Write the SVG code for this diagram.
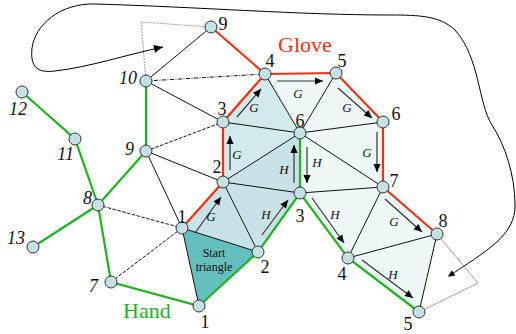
<svg xmlns="http://www.w3.org/2000/svg" width="516" height="334" viewBox="0 0 516 334">
<style>
.t1{fill:#c8e3e7}.t2{fill:#d3eaed}.t3{fill:#eef8f9}.st{fill:#66bfbf}
.e{stroke:#111;stroke-width:1;fill:none}
.d{stroke:#111;stroke-width:1;fill:none;stroke-dasharray:3.5,1.5}
.dd{stroke:#111;stroke-width:1;fill:none;stroke-dasharray:4,1.5,1,1.5}
.r{stroke:#ee3314;stroke-width:2.2;fill:none}
.g{stroke:#1fb31f;stroke-width:2.2;fill:none}
.gr{stroke:#888;stroke-width:0.8;fill:none}
.grd{stroke:#888;stroke-width:0.8;fill:none;stroke-dasharray:2,1}
.a{stroke:#333;stroke-width:1.2;fill:none;marker-end:url(#ah)}
.n circle{fill:#c5e1e4;stroke:#333;stroke-width:1}
text{font-family:"Liberation Serif","Times New Roman",serif;fill:#111}
.lb{font-size:18px;text-anchor:middle}
.li{font-size:18px;font-style:italic;text-anchor:end}
.gh{font-size:13px;font-style:italic;text-anchor:middle}
</style>
<defs>
<marker id="ah" viewBox="0 0 10 10" refX="10" refY="5" markerWidth="9" markerHeight="8" markerUnits="userSpaceOnUse" orient="auto"><path d="M0,0.5 L10,5 L0,9.5 z" fill="#000"/></marker>
<marker id="cb" viewBox="0 0 10 10" refX="10" refY="5" markerWidth="12" markerHeight="9" markerUnits="userSpaceOnUse" orient="auto"><path d="M0,0.5 L10,5 L0,9.5 z" fill="#000"/></marker>
<marker id="cs" viewBox="0 0 10 10" refX="8" refY="5" markerWidth="7" markerHeight="7" markerUnits="userSpaceOnUse" orient="auto-start-reverse"><path d="M0,0.5 L10,5 L0,9.5 z" fill="#000"/></marker>
</defs>

<g id="faces">
<polygon class="t1" points="182,228 223,182 258,252"/>
<polygon class="t1" points="223,182 258,252 300,193"/>
<polygon class="t1" points="223,182 300,193 300,133"/>
<polygon class="t2" points="223,182 223,122 300,133"/>
<polygon class="t2" points="223,122 265,74 300,133"/>
<polygon class="t3" points="265,74 336,73 300,133"/>
<polygon class="t3" points="336,73 383,122 300,133"/>
<polygon class="t3" points="300,133 383,122 383,187"/>
<polygon class="t3" points="300,133 383,187 300,193"/>
<polygon class="t3" points="300,193 383,187 348,258"/>
<polygon class="t3" points="348,258 383,187 437,234"/>
<polygon class="t3" points="348,258 437,234 419,312"/>
<polygon class="st" points="182,228 258,252 199,306"/>
</g>

<g id="connectors">
<polyline class="grd" points="146,81 141,22 211,27"/>
<polyline class="gr" points="437,234 478,283 419,312"/>
<path d="M449,276 C485,252 516,235 515,205 C515,175 505,145 492,125 C478,103 480,58 455,30 C440,16 420,15 390,15 C300,15 200,7 95,4 C60,3 35,25 32,48 C30,68 38,73 55,71 C90,67 125,55 163,47" fill="none" stroke="#000" stroke-width="1" marker-start="url(#cs)" marker-end="url(#cb)"/>
<line class="e" x1="211" y1="27" x2="146" y2="81"/>
<line class="e" x1="146" y1="81" x2="223" y2="122"/>
<line class="dd" x1="146" y1="81" x2="265" y2="74"/>
<line class="d" x1="146" y1="151" x2="223" y2="122"/>
<line class="e" x1="146" y1="151" x2="223" y2="182"/>
<line class="e" x1="146" y1="151" x2="182" y2="228"/>
<line class="d" x1="98" y1="205" x2="182" y2="228"/>
<line class="d" x1="111" y1="282" x2="182" y2="228"/>
<line class="e" x1="265" y1="74" x2="300" y2="133"/>
<line class="e" x1="336" y1="73" x2="300" y2="133"/>
<line class="e" x1="383" y1="122" x2="300" y2="133"/>
<line class="e" x1="223" y1="122" x2="300" y2="133"/>
<line class="e" x1="223" y1="182" x2="300" y2="133"/>
<line class="e" x1="383" y1="187" x2="300" y2="133"/>
<line class="e" x1="223" y1="182" x2="300" y2="193"/>
<line class="e" x1="223" y1="182" x2="258" y2="252"/>
<line class="e" x1="182" y1="228" x2="258" y2="252"/>
<line class="e" x1="182" y1="228" x2="199" y2="306"/>
<line class="e" x1="300" y1="193" x2="383" y2="187"/>
<line class="e" x1="383" y1="187" x2="348" y2="258"/>
<line class="e" x1="348" y1="258" x2="437" y2="234"/>
<line class="e" x1="437" y1="234" x2="419" y2="312"/>
<polyline class="r" points="211,27 265,74 336,73 383,122 383,187 437,234"/>
<polyline class="r" points="265,74 223,122 223,182 182,228"/>
<polyline class="g" points="22,92 75,139 98,205 111,282 199,306 258,252 300,193 348,258 419,312"/>
<line class="g" x1="300" y1="193" x2="300" y2="133"/>
<line class="g" x1="33" y1="247" x2="98" y2="205"/>
<polyline class="g" points="98,205 146,151 146,81"/>
<line class="a" x1="195" y1="233" x2="221" y2="197"/>
<line class="a" x1="230" y1="170" x2="230" y2="136"/>
<line class="a" x1="237" y1="117" x2="261" y2="89"/>
<line class="a" x1="277" y1="81" x2="323" y2="81"/>
<line class="a" x1="338" y1="88" x2="372" y2="118"/>
<line class="a" x1="377" y1="132" x2="377" y2="172"/>
<line class="a" x1="385" y1="199" x2="422" y2="232"/>
<line class="a" x1="262" y1="235" x2="288" y2="200"/>
<line class="a" x1="294" y1="183" x2="294" y2="145"/>
<line class="a" x1="307" y1="147" x2="307" y2="183"/>
<line class="a" x1="312" y1="198" x2="344" y2="243"/>
<line class="a" x1="362" y1="260" x2="413" y2="298"/>
</g>

<g class="gh">
<text x="211" y="221">G</text>
<text x="237" y="159">G</text>
<text x="254" y="112">G</text>
<text x="298" y="98">G</text>
<text x="347" y="112">G</text>
<text x="367" y="157">G</text>
<text x="394" y="226">G</text>
<text x="266" y="219">H</text>
<text x="284" y="174">H</text>
<text x="317" y="167">H</text>
<text x="335" y="219">H</text>
<text x="393" y="279">H</text>
</g>

<g id="h12" class="n"><circle cx="22" cy="92" r="6"/><text class="li" x="27" y="115">12</text></g>
<g id="h11" class="n"><circle cx="75" cy="139" r="6"/><text class="li" x="74" y="160">11</text></g>
<g id="h10" class="n"><circle cx="146" cy="81" r="6"/><text class="li" x="137" y="84">10</text></g>
<g id="h9" class="n"><circle cx="146" cy="151" r="6"/><text class="li" x="134" y="155">9</text></g>
<g id="h8" class="n"><circle cx="98" cy="205" r="6"/><text class="li" x="92" y="204">8</text></g>
<g id="h13" class="n"><circle cx="33" cy="247" r="6"/><text class="li" x="25" y="244">13</text></g>
<g id="h7" class="n"><circle cx="111" cy="282" r="6"/><text class="li" x="98" y="292">7</text></g>
<g id="t9" class="n"><circle cx="211" cy="27" r="6"/><text class="lb" x="223" y="30">9</text></g>
<g id="g1" class="n"><circle cx="182" cy="228" r="6"/><text class="lb" x="182" y="223">1</text></g>
<g id="g2" class="n"><circle cx="223" cy="182" r="6"/><text class="lb" x="217" y="173">2</text></g>
<g id="g3" class="n"><circle cx="223" cy="122" r="6"/><text class="lb" x="222" y="115">3</text></g>
<g id="g4" class="n"><circle cx="265" cy="74" r="6"/><text class="lb" x="270" y="67">4</text></g>
<g id="g5" class="n"><circle cx="336" cy="73" r="6"/><text class="lb" x="342" y="67">5</text></g>
<g id="g6r" class="n"><circle cx="383" cy="122" r="6"/><text class="lb" x="396" y="120">6</text></g>
<g id="g6c" class="n"><circle cx="300" cy="133" r="6"/><text class="lb" x="300" y="127">6</text></g>
<g id="g3c" class="n"><circle cx="300" cy="193" r="6"/><text class="lb" x="300" y="222">3</text></g>
<g id="g7" class="n"><circle cx="383" cy="187" r="6"/><text class="lb" x="394" y="187">7</text></g>
<g id="g8" class="n"><circle cx="437" cy="234" r="6"/><text class="lb" x="443" y="227">8</text></g>
<g id="g4l" class="n"><circle cx="348" cy="258" r="6"/><text class="lb" x="342" y="280">4</text></g>
<g id="g5l" class="n"><circle cx="419" cy="312" r="6"/><text class="lb" x="408" y="330">5</text></g>
<g id="g2b" class="n"><circle cx="258" cy="252" r="6"/><text class="lb" x="265" y="273">2</text></g>
<g id="g1b" class="n"><circle cx="199" cy="306" r="6"/><text class="lb" x="205" y="328">1</text></g>

<g id="labels">
<text x="214" y="257" font-size="12" text-anchor="middle">Start</text>
<text x="214" y="271" font-size="12" text-anchor="middle">triangle</text>
<text x="278" y="52" font-size="22" style="fill:#ee3314">Glove</text>
<text x="123" y="318" font-size="22" style="fill:#1fb31f">Hand</text>
</g>
</svg>
